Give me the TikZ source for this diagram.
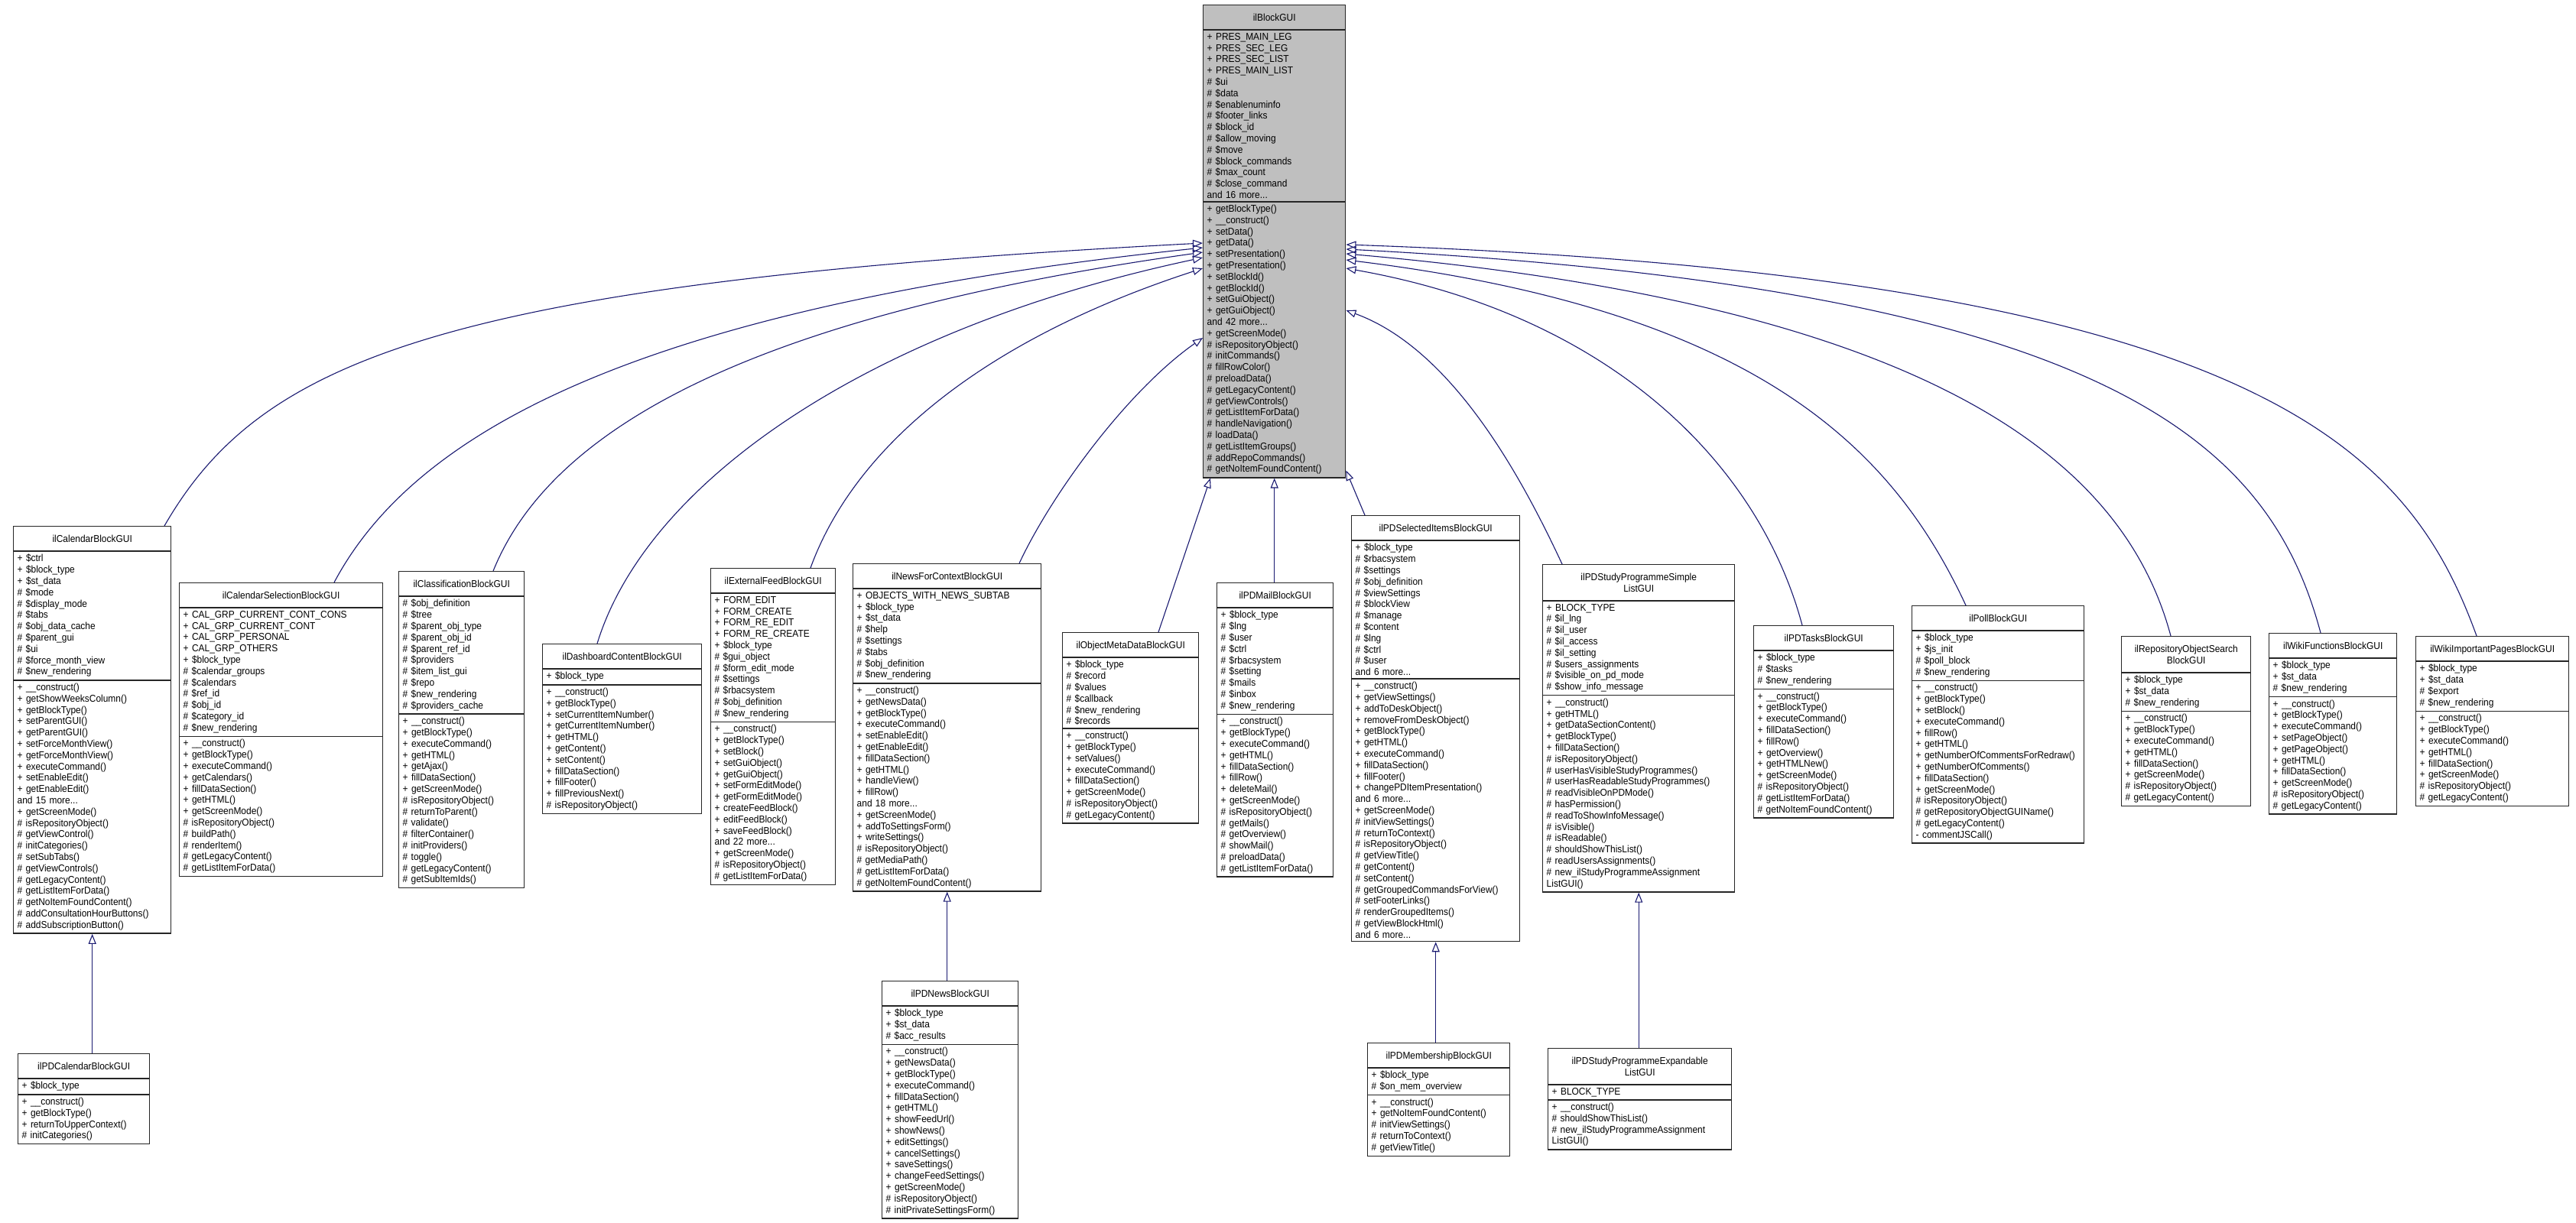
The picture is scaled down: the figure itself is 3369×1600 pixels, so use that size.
\documentclass[tikz,border=0pt]{standalone}
\usepackage{fontspec}
\setmainfont[FakeStretch=0.92]{Liberation Sans}
\usetikzlibrary{shapes.multipart,arrows.meta}

\definecolor{edgeblue}{RGB}{25,25,112}
\definecolor{basegray}{RGB}{191,191,191}

% one class box: [options] name, x, y, width, title, attributes, methods
\newcommand{\classbox}[8][]{%
  \node[cls, #1, anchor=north west, text width=#5pt-10pt] (#2) at (#3,#4)
    {\centering\rule{0pt}{17pt}#6\rule[-7pt]{0pt}{7pt}\par\nodepart{two}#7\nodepart{three}#8};}

\begin{document}
\begin{tikzpicture}[x=1pt,y=-1pt,
  cls/.style={rectangle split, rectangle split parts=3, draw=black!85,
    line width=1.4pt, fill=white, inner xsep=5pt, inner ysep=3.5pt,
    align=left, font=\fontsize{13}{14.8}\selectfont},
  inh/.style={draw=edgeblue, line width=1.1pt,
    {Triangle[open,length=13pt,width=10pt]}-}]
\useasboundingbox (0,0) rectangle (3369,1600);

\classbox[fill=basegray]{blk}{1573}{6}{186}{ilBlockGUI}
{+ PRES\_MAIN\_LEG\\+ PRES\_SEC\_LEG\\+ PRES\_SEC\_LIST\\+ PRES\_MAIN\_LIST\\\# \$ui\\\# \$data\\\# \$enablenuminfo\\\# \$footer\_links\\\# \$block\_id\\\# \$allow\_moving\\\# \$move\\\# \$block\_commands\\\# \$max\_count\\\# \$close\_command\\and 16 more...}
{+ getBlockType()\\+ \_\_construct()\\+ setData()\\+ getData()\\+ setPresentation()\\+ getPresentation()\\+ setBlockId()\\+ getBlockId()\\+ setGuiObject()\\+ getGuiObject()\\and 42 more...\\+ getScreenMode()\\\# isRepositoryObject()\\\# initCommands()\\\# fillRowColor()\\\# preloadData()\\\# getLegacyContent()\\\# getViewControls()\\\# getListItemForData()\\\# handleNavigation()\\\# loadData()\\\# getListItemGroups()\\\# addRepoCommands()\\\# getNoItemFoundContent()}

\classbox{cal}{17}{688}{206}{ilCalendarBlockGUI}
{+ \$ctrl\\+ \$block\_type\\+ \$st\_data\\\# \$mode\\\# \$display\_mode\\\# \$tabs\\\# \$obj\_data\_cache\\\# \$parent\_gui\\\# \$ui\\\# \$force\_month\_view\\\# \$new\_rendering}
{+ \_\_construct()\\+ getShowWeeksColumn()\\+ getBlockType()\\+ setParentGUI()\\+ getParentGUI()\\+ setForceMonthView()\\+ getForceMonthView()\\+ executeCommand()\\+ setEnableEdit()\\+ getEnableEdit()\\and 15 more...\\+ getScreenMode()\\\# isRepositoryObject()\\\# getViewControl()\\\# initCategories()\\\# setSubTabs()\\\# getViewControls()\\\# getLegacyContent()\\\# getListItemForData()\\\# getNoItemFoundContent()\\\# addConsultationHourButtons()\\\# addSubscriptionButton()}

\classbox{calsel}{234}{762}{266}{ilCalendarSelectionBlockGUI}
{+ CAL\_GRP\_CURRENT\_CONT\_CONS\\+ CAL\_GRP\_CURRENT\_CONT\\+ CAL\_GRP\_PERSONAL\\+ CAL\_GRP\_OTHERS\\+ \$block\_type\\\# \$calendar\_groups\\\# \$calendars\\\# \$ref\_id\\\# \$obj\_id\\\# \$category\_id\\\# \$new\_rendering}
{+ \_\_construct()\\+ getBlockType()\\+ executeCommand()\\+ getCalendars()\\+ fillDataSection()\\+ getHTML()\\+ getScreenMode()\\\# isRepositoryObject()\\\# buildPath()\\\# renderItem()\\\# getLegacyContent()\\\# getListItemForData()}

\classbox{classif}{521}{747}{164}{ilClassificationBlockGUI}
{\# \$obj\_definition\\\# \$tree\\\# \$parent\_obj\_type\\\# \$parent\_obj\_id\\\# \$parent\_ref\_id\\\# \$providers\\\# \$item\_list\_gui\\\# \$repo\\\# \$new\_rendering\\\# \$providers\_cache}
{+ \_\_construct()\\+ getBlockType()\\+ executeCommand()\\+ getHTML()\\+ getAjax()\\+ fillDataSection()\\+ getScreenMode()\\\# isRepositoryObject()\\\# returnToParent()\\\# validate()\\\# filterContainer()\\\# initProviders()\\\# toggle()\\\# getLegacyContent()\\\# getSubItemIds()}

\classbox{dash}{709}{842}{208}{ilDashboardContentBlockGUI}
{+ \$block\_type}
{+ \_\_construct()\\+ getBlockType()\\+ setCurrentItemNumber()\\+ getCurrentItemNumber()\\+ getHTML()\\+ getContent()\\+ setContent()\\+ fillDataSection()\\+ fillFooter()\\+ fillPreviousNext()\\\# isRepositoryObject()}

\classbox{extfeed}{929}{743}{163}{ilExternalFeedBlockGUI}
{+ FORM\_EDIT\\+ FORM\_CREATE\\+ FORM\_RE\_EDIT\\+ FORM\_RE\_CREATE\\+ \$block\_type\\\# \$gui\_object\\\# \$form\_edit\_mode\\\# \$settings\\\# \$rbacsystem\\\# \$obj\_definition\\\# \$new\_rendering}
{+ \_\_construct()\\+ getBlockType()\\+ setBlock()\\+ setGuiObject()\\+ getGuiObject()\\+ setFormEditMode()\\+ getFormEditMode()\\+ createFeedBlock()\\+ editFeedBlock()\\+ saveFeedBlock()\\and 22 more...\\+ getScreenMode()\\\# isRepositoryObject()\\\# getListItemForData()}

\classbox{newsctx}{1115}{737}{246}{ilNewsForContextBlockGUI}
{+ OBJECTS\_WITH\_NEWS\_SUBTAB\\+ \$block\_type\\+ \$st\_data\\\# \$help\\\# \$settings\\\# \$tabs\\\# \$obj\_definition\\\# \$new\_rendering}
{+ \_\_construct()\\+ getNewsData()\\+ getBlockType()\\+ executeCommand()\\+ setEnableEdit()\\+ getEnableEdit()\\+ fillDataSection()\\+ getHTML()\\+ handleView()\\+ fillRow()\\and 18 more...\\+ getScreenMode()\\+ addToSettingsForm()\\+ writeSettings()\\\# isRepositoryObject()\\\# getMediaPath()\\\# getListItemForData()\\\# getNoItemFoundContent()}

\classbox{objmeta}{1389}{827}{178}{ilObjectMetaDataBlockGUI}
{+ \$block\_type\\\# \$record\\\# \$values\\\# \$callback\\\# \$new\_rendering\\\# \$records}
{+ \_\_construct()\\+ getBlockType()\\+ setValues()\\+ executeCommand()\\+ fillDataSection()\\+ getScreenMode()\\\# isRepositoryObject()\\\# getLegacyContent()}

\classbox{pdmail}{1591}{762}{152}{ilPDMailBlockGUI}
{+ \$block\_type\\\# \$lng\\\# \$user\\\# \$ctrl\\\# \$rbacsystem\\\# \$setting\\\# \$mails\\\# \$inbox\\\# \$new\_rendering}
{+ \_\_construct()\\+ getBlockType()\\+ executeCommand()\\+ getHTML()\\+ fillDataSection()\\+ fillRow()\\+ deleteMail()\\+ getScreenMode()\\\# isRepositoryObject()\\\# getMails()\\\# getOverview()\\\# showMail()\\\# preloadData()\\\# getListItemForData()}

\classbox{pdsel}{1767}{674}{220}{ilPDSelectedItemsBlockGUI}
{+ \$block\_type\\\# \$rbacsystem\\\# \$settings\\\# \$obj\_definition\\\# \$viewSettings\\\# \$blockView\\\# \$manage\\\# \$content\\\# \$lng\\\# \$ctrl\\\# \$user\\and 6 more...}
{+ \_\_construct()\\+ getViewSettings()\\+ addToDeskObject()\\+ removeFromDeskObject()\\+ getBlockType()\\+ getHTML()\\+ executeCommand()\\+ fillDataSection()\\+ fillFooter()\\+ changePDItemPresentation()\\and 6 more...\\+ getScreenMode()\\\# initViewSettings()\\\# returnToContext()\\\# isRepositoryObject()\\\# getViewTitle()\\\# getContent()\\\# setContent()\\\# getGroupedCommandsForView()\\\# setFooterLinks()\\\# renderGroupedItems()\\\# getViewBlockHtml()\\and 6 more...}

\classbox{spsimple}{2017}{738}{251}{ilPDStudyProgrammeSimple\\ListGUI}
{+ BLOCK\_TYPE\\\# \$il\_lng\\\# \$il\_user\\\# \$il\_access\\\# \$il\_setting\\\# \$users\_assignments\\\# \$visible\_on\_pd\_mode\\\# \$show\_info\_message}
{+ \_\_construct()\\+ getHTML()\\+ getDataSectionContent()\\+ getBlockType()\\+ fillDataSection()\\\# isRepositoryObject()\\\# userHasVisibleStudyProgrammes()\\\# userHasReadableStudyProgrammes()\\\# readVisibleOnPDMode()\\\# hasPermission()\\\# readToShowInfoMessage()\\\# isVisible()\\\# isReadable()\\\# shouldShowThisList()\\\# readUsersAssignments()\\\# new\_ilStudyProgrammeAssignment\\ListGUI()}

\classbox{pdtasks}{2293}{818}{183}{ilPDTasksBlockGUI}
{+ \$block\_type\\\# \$tasks\\\# \$new\_rendering}
{+ \_\_construct()\\+ getBlockType()\\+ executeCommand()\\+ fillDataSection()\\+ fillRow()\\+ getOverview()\\+ getHTMLNew()\\+ getScreenMode()\\\# isRepositoryObject()\\\# getListItemForData()\\\# getNoItemFoundContent()}

\classbox{poll}{2500}{792}{225}{ilPollBlockGUI}
{+ \$block\_type\\+ \$js\_init\\\# \$poll\_block\\\# \$new\_rendering}
{+ \_\_construct()\\+ getBlockType()\\+ setBlock()\\+ executeCommand()\\+ fillRow()\\+ getHTML()\\+ getNumberOfCommentsForRedraw()\\+ getNumberOfComments()\\+ fillDataSection()\\+ getScreenMode()\\\# isRepositoryObject()\\\# getRepositoryObjectGUIName()\\\# getLegacyContent()\\- commentJSCall()}

\classbox{reposearch}{2774}{832}{169}{ilRepositoryObjectSearch\\BlockGUI}
{+ \$block\_type\\+ \$st\_data\\\# \$new\_rendering}
{+ \_\_construct()\\+ getBlockType()\\+ executeCommand()\\+ getHTML()\\+ fillDataSection()\\+ getScreenMode()\\\# isRepositoryObject()\\\# getLegacyContent()}

\classbox{wikifn}{2967}{828}{167}{ilWikiFunctionsBlockGUI}
{+ \$block\_type\\+ \$st\_data\\\# \$new\_rendering}
{+ \_\_construct()\\+ getBlockType()\\+ executeCommand()\\+ setPageObject()\\+ getPageObject()\\+ getHTML()\\+ fillDataSection()\\+ getScreenMode()\\\# isRepositoryObject()\\\# getLegacyContent()}

\classbox{wikiimp}{3159}{832}{200}{ilWikiImportantPagesBlockGUI}
{+ \$block\_type\\+ \$st\_data\\\# \$export\\\# \$new\_rendering}
{+ \_\_construct()\\+ getBlockType()\\+ executeCommand()\\+ getHTML()\\+ fillDataSection()\\+ getScreenMode()\\\# isRepositoryObject()\\\# getLegacyContent()}

\classbox{pdcal}{23}{1378}{172}{ilPDCalendarBlockGUI}
{+ \$block\_type}
{+ \_\_construct()\\+ getBlockType()\\+ returnToUpperContext()\\\# initCategories()}

\classbox{pdnews}{1153}{1283}{178}{ilPDNewsBlockGUI}
{+ \$block\_type\\+ \$st\_data\\\# \$acc\_results}
{+ \_\_construct()\\+ getNewsData()\\+ getBlockType()\\+ executeCommand()\\+ fillDataSection()\\+ getHTML()\\+ showFeedUrl()\\+ showNews()\\+ editSettings()\\+ cancelSettings()\\+ saveSettings()\\+ changeFeedSettings()\\+ getScreenMode()\\\# isRepositoryObject()\\\# initPrivateSettingsForm()}

\classbox{pdmem}{1788}{1364}{186}{ilPDMembershipBlockGUI}
{+ \$block\_type\\\# \$on\_mem\_overview}
{+ \_\_construct()\\+ getNoItemFoundContent()\\\# initViewSettings()\\\# returnToContext()\\\# getViewTitle()}

\classbox{spexp}{2024}{1371}{240}{ilPDStudyProgrammeExpandable\\ListGUI}
{+ BLOCK\_TYPE}
{+ \_\_construct()\\\# shouldShowThisList()\\\# new\_ilStudyProgrammeAssignment\\ListGUI()}

% inheritance towards the base class
\draw[inh] ([yshift=-312pt]blk.north west) .. controls +(183:1000pt) and +(60:250pt) .. ([xshift=198pt]cal.north west);
\draw[inh] ([yshift=-318pt]blk.north west) .. controls +(186:750pt) and +(62:220pt) .. ([xshift=203pt]calsel.north west);
\draw[inh] ([yshift=-324pt]blk.north west) .. controls +(188:600pt) and +(68:200pt) .. ([xshift=124pt]classif.north west);
\draw[inh] ([yshift=-331pt]blk.north west) .. controls +(192:450pt) and +(73:220pt) .. ([xshift=72pt]dash.north west);
\draw[inh] ([yshift=-345pt]blk.north west) .. controls +(198:300pt) and +(70:170pt) .. ([xshift=131pt]extfeed.north west);
\draw[inh] ([yshift=-436pt]blk.north west) .. controls +(215:120pt) and +(65:100pt) .. ([xshift=218pt]newsctx.north west);
\draw[inh] ([xshift=10pt]blk.south west) -- ([xshift=126pt]objmeta.north west);
\draw[inh] (blk.south) -- (blk.south |- pdmail.north);
\draw[inh] ([yshift=10pt]blk.south east) -- ([xshift=18pt]pdsel.north west);
\draw[inh] ([yshift=-400pt]blk.north east) .. controls +(-20:150pt) and +(115:120pt) .. ([xshift=26pt]spsimple.north west);
\draw[inh] ([yshift=-345pt]blk.north east) .. controls +(-10:350pt) and +(105:220pt) .. ([xshift=64pt]pdtasks.north west);
\draw[inh] ([yshift=-334pt]blk.north east) .. controls +(-7:550pt) and +(115:220pt) .. ([xshift=71pt]poll.north west);
\draw[inh] ([yshift=-326pt]blk.north east) .. controls +(-5:800pt) and +(105:220pt) .. ([xshift=65pt]reposearch.north west);
\draw[inh] ([yshift=-320pt]blk.north east) .. controls +(-3:1000pt) and +(105:260pt) .. ([xshift=68pt]wikifn.north west);
\draw[inh] ([yshift=-314pt]blk.north east) .. controls +(-2:1200pt) and +(110:260pt) .. ([xshift=80pt]wikiimp.north west);

% second level
\draw[inh] (cal.south) -- (cal.south |- pdcal.north);
\draw[inh] (newsctx.south) -- (newsctx.south |- pdnews.north);
\draw[inh] (pdsel.south) -- (pdsel.south |- pdmem.north);
\draw[inh] (spsimple.south) -- (spsimple.south |- spexp.north);
\end{tikzpicture}
\end{document}
